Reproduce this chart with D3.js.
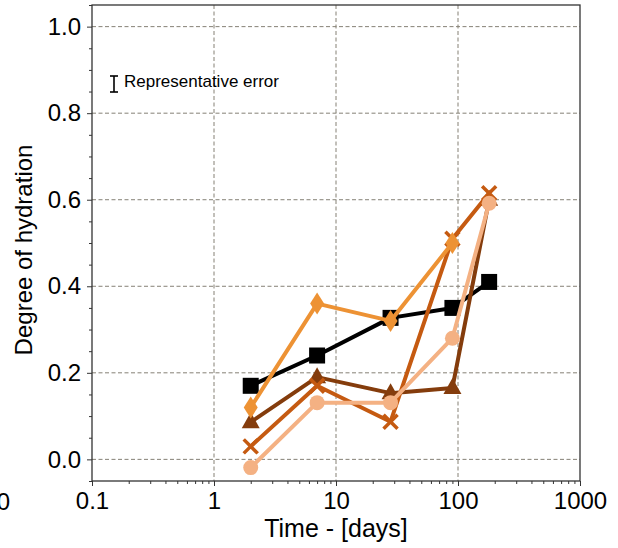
<!DOCTYPE html>
<html><head><meta charset="utf-8">
<script src="https://cdn.jsdelivr.net/npm/d3@7"></script>
<style>body{margin:0;background:#fff}svg{display:block}text{font-family:"Liberation Sans",Arial,sans-serif;fill:#000}</style>
</head><body><svg id="c" width="618" height="548"></svg>
<script>
const days = [2, 7, 28, 90, 180];
const squareVals = [0.17, 0.24, 0.327, 0.35, 0.41];
const diamondVals = [0.12, 0.36, 0.32, 0.50];
const triangleVals = [0.086, 0.19, 0.153, 0.165, 0.60];
const crossVals = [0.03, 0.17, 0.087, 0.51, 0.615];
const circleVals = [-0.019, 0.131, 0.131, 0.28, 0.592];
const xTickVals = [0.1, 1, 10, 100, 1000];
const xTickLabels = ["0.1", "1", "10", "100", "1000"];
const yTickVals = [0, 0.2, 0.4, 0.6, 0.8, 1.0];
const yTickLabels = ["0.0", "0.2", "0.4", "0.6", "0.8", "1.0"];

const series = [
  {vals: squareVals, color: "#000000", shape: "square"},
  {vals: triangleVals, color: "#843C0C", shape: "triangle"},
  {vals: crossVals, color: "#C55A11", shape: "cross"},
  {vals: diamondVals, color: "#ED9234", shape: "diamond"},
  {vals: circleVals, color: "#F4B183", shape: "circle"}
];

const L = 92, R = 580, T = 5, B = 481;
const svg = d3.select("#c");
const x = d3.scaleLog().domain([0.1, 1000]).range([L, R]);
const y = d3.scaleLinear().domain([-0.05, 1.05]).range([B, T]);

// grid
const grid = svg.append("g").attr("stroke", "#858075").attr("stroke-width", 1).attr("stroke-dasharray", "4,2.5");
grid.selectAll("line.v").data(xTickVals.slice(1, -1)).join("line")
  .attr("x1", d => x(d)).attr("x2", d => x(d)).attr("y1", T).attr("y2", B);
grid.selectAll("line.h").data(yTickVals).join("line")
  .attr("x1", L).attr("x2", R).attr("y1", d => y(d)).attr("y2", d => y(d));

// axes
const minorX = [];
[0.1, 1, 10, 100].forEach(b => { for (let k = 2; k <= 9; k++) minorX.push(b * k); });
const xAxis = svg.append("g").attr("transform", `translate(0,${B})`)
  .call(d3.axisBottom(x).tickValues(xTickVals).tickFormat((d, i) => xTickLabels[i]).tickSize(5).tickPadding(6));
const xMinor = svg.append("g").attr("transform", `translate(0,${B})`)
  .call(d3.axisBottom(x).tickValues(minorX).tickFormat("").tickSize(3));
const minorY = d3.range(-0.05, 1.06, 0.05).map(v => +v.toFixed(2)).filter(v => Math.abs(Math.round(v * 5) - v * 5) > 1e-6);
const yAxis = svg.append("g").attr("transform", `translate(${L},0)`)
  .call(d3.axisLeft(y).tickValues(yTickVals).tickFormat((d, i) => yTickLabels[i]).tickSize(5).tickPadding(6));
const yMinor = svg.append("g").attr("transform", `translate(${L},0)`)
  .call(d3.axisLeft(y).tickValues(minorY).tickFormat("").tickSize(3));
[xAxis, xMinor, yAxis, yMinor].forEach(g => {
  g.select(".domain").remove();
  g.selectAll(".tick line").attr("stroke", "#333").attr("stroke-width", 1);
  g.selectAll("text").attr("font-size", 24).attr("fill", "#000");
});
xAxis.selectAll("text").attr("dy", "0.71em");

// frame
svg.append("rect").attr("x", L).attr("y", T).attr("width", R - L).attr("height", B - T)
  .attr("fill", "none").attr("stroke", "#333").attr("stroke-width", 1.3);

// series
const line = d3.line().x(d => x(d[0])).y(d => y(d[1]));
series.forEach(s => {
  const pts = s.vals.map((v, i) => [days[i], v]);
  const g = svg.append("g");
  g.append("path").attr("d", line(pts)).attr("fill", "none").attr("stroke", s.color).attr("stroke-width", 4).attr("stroke-linejoin", "round");
  pts.forEach(p => {
    const cx = x(p[0]), cy = y(p[1]);
    if (s.shape === "square") {
      g.append("rect").attr("x", cx - 8).attr("y", cy - 8).attr("width", 16).attr("height", 16).attr("fill", s.color);
    } else if (s.shape === "circle") {
      g.append("circle").attr("cx", cx).attr("cy", cy).attr("r", 7.5).attr("fill", s.color);
    } else if (s.shape === "triangle") {
      g.append("path").attr("d", `M${cx},${cy - 10}L${cx + 9},${cy + 6}L${cx - 9},${cy + 6}Z`).attr("fill", s.color);
    } else if (s.shape === "diamond") {
      g.append("path").attr("d", `M${cx},${cy - 11}L${cx + 7},${cy}L${cx},${cy + 11}L${cx - 7},${cy}Z`).attr("fill", s.color);
    } else if (s.shape === "cross") {
      g.append("path").attr("d", `M${cx - 7},${cy - 7}L${cx + 7},${cy + 7}M${cx - 7},${cy + 7}L${cx + 7},${cy - 7}`)
        .attr("stroke", s.color).attr("stroke-width", 3.5).attr("fill", "none");
    }
  });
});

// representative error
const eg = svg.append("g").attr("stroke", "#000").attr("stroke-width", 1.6);
eg.append("line").attr("x1", 114).attr("x2", 114).attr("y1", 76).attr("y2", 92);
eg.append("line").attr("x1", 110).attr("x2", 118).attr("y1", 76).attr("y2", 76);
eg.append("line").attr("x1", 110).attr("x2", 118).attr("y1", 92).attr("y2", 92);
svg.append("text").attr("x", 124).attr("y", 87).attr("font-size", 17).text("Representative error");

// axis titles
svg.append("text").attr("x", (L + R) / 2).attr("y", 537).attr("text-anchor", "middle").attr("font-size", 25).text("Time - [days]");
svg.append("text").attr("transform", `translate(32,250) rotate(-90)`).attr("text-anchor", "middle").attr("font-size", 24).text("Degree of hydration");
// clipped label at left edge (partially outside the picture, as in the reference)
svg.append("text").attr("x", 10).attr("y", 510).attr("text-anchor", "end").attr("font-size", 24).text("1000");
</script></body></html>
